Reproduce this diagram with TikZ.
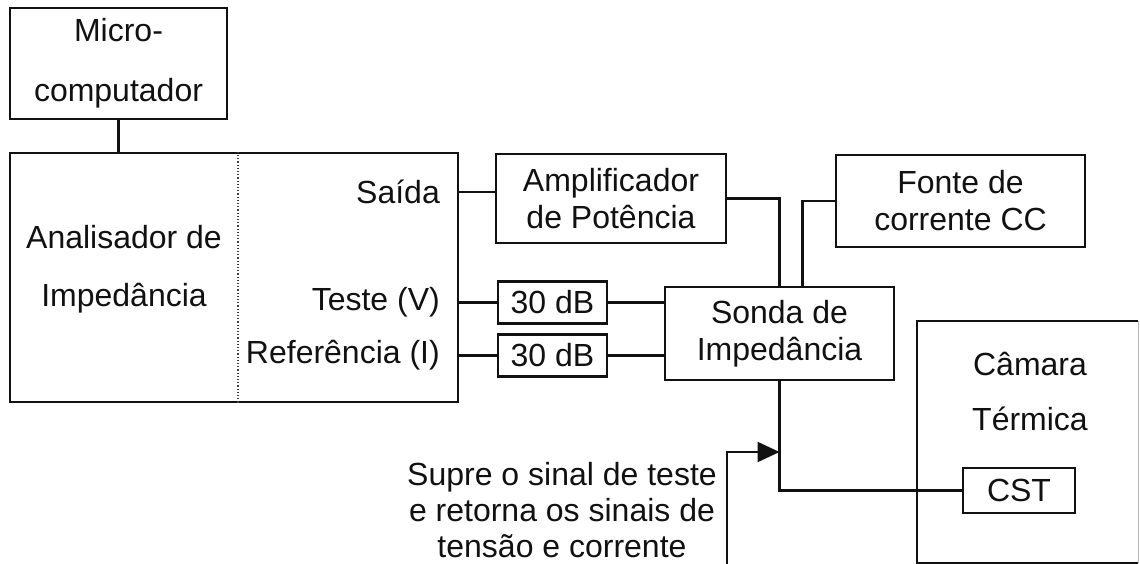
\documentclass[tikz,border=0pt]{standalone}
\usepackage{fontspec}
\setmainfont{Liberation Sans}
\usetikzlibrary{arrows.meta,calc}
\definecolor{cInk}{HTML}{111111}

\begin{document}
\begin{tikzpicture}[
  x=1pt, y=-1pt,
  font=\fontsize{32}{37}\selectfont,
  blk/.style 2 args={draw=cInk, line width=2.3pt, inner sep=0pt, align=center,
                     minimum width=#1, minimum height=#2, text=cInk},
  lbl/.style={inner sep=0pt, text=cInk, align=center},
  wire/.style={line width=2.3pt, draw=cInk},
  sig/.style={-{Triangle[length=22pt,width=20pt]}, line width=2.3pt, draw=cInk},
  divider/.style={line width=1.2pt, draw=cInk!80, dotted},
]
\useasboundingbox (0,0) rectangle (1140,564);

% ---------------- computer and analyser ----------------
\node[blk={217pt}{111pt}] (micro) at (118.5,63.5) {Micro-\\[23pt]computador};
\node[blk={448pt}{249pt}] (ana) at (234,277.5) {};
\node[lbl] (anaTxt) at (124,269) {Analisador de\\[21pt]Impedância};
\coordinate (dv) at (238,0);
\draw[divider] (ana.north west -| dv) -- (ana.south west -| dv);

\node[lbl, anchor=east] (saida) at (440,192) {Saída};
\node[lbl, anchor=east] (teste) at (440,302) {Teste (V)};
\node[lbl, anchor=east] (refer) at (440,355) {Referência (I)};

\draw[wire] (micro.south) -- (micro.south |- ana.north);

% ---------------- power path ----------------
\node[blk={230pt}{89pt}] (amp) at (611,198.5) {Amplificador\\de Potência};
\node[blk={249pt}{92pt}] (fonte) at (960.5,201) {Fonte de\\corrente CC};
\node[blk={229pt}{93pt}] (sonda) at (779.5,333.5) {Sonda de\\Impedância};

\draw[wire] (ana.east |- saida) -- (amp.west |- saida);
\draw[wire] (amp.east) -| (sonda.north);
\draw[wire] (fonte.west) -| ([xshift=23pt]sonda.north);

% ---------------- attenuators ----------------
\node[blk={109pt}{42pt}] (db1) at (552.5,302.5) {30 dB};
\node[blk={109pt}{42pt}] (db2) at (552.5,355.5) {30 dB};

\draw[wire] (ana.east |- db1) -- (db1.west);
\draw[wire] (db1.east) -- (db1.east -| sonda.west);
\draw[wire] (ana.east |- db2) -- (db2.west);
\draw[wire] (db2.east) -- (db2.east -| sonda.west);

% ---------------- thermal chamber ----------------
\node[minimum width=221pt, minimum height=242pt, inner sep=0pt] (cam) at (1027.5,442) {};
\draw[wire] (cam.north east) -- (cam.north west) -- (cam.south west) -- (cam.south east);
\draw[line width=1pt, draw=cInk!30] (cam.north east) -- (cam.south east);
\node[lbl] (camTxt) at (1030,392) {Câmara\\[18pt]Térmica};
\node[blk={112pt}{45pt}] (cst) at (1019,490.5) {CST};

\draw[wire] (sonda.south) |- (cst.west);

% ---------------- note ----------------
\node[lbl, font=\fontsize{32}{36}\selectfont] (note) at (562,510)
  {Supre o sinal de teste\\e retorna os sinais de\\tensão e corrente};
\coordinate (foot) at (727,566);
\coordinate (bend) at (727,452);
\draw[sig] (foot) -- (bend) -- (bend -| sonda.south);

\end{tikzpicture}
\end{document}
